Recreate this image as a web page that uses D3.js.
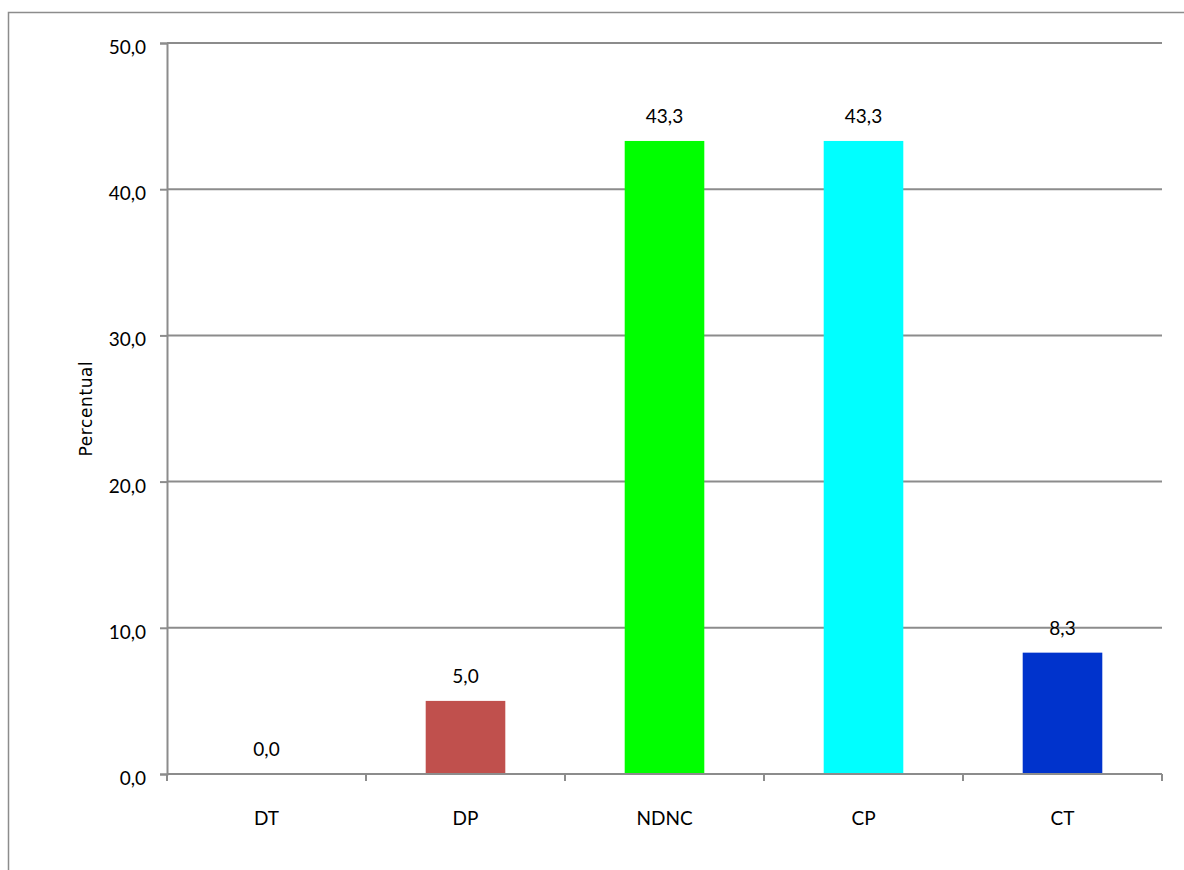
<!DOCTYPE html>
<html>
<head>
<meta charset="utf-8">
<script src="https://cdn.jsdelivr.net/npm/d3@7"></script>
<style>
  html, body { margin: 0; padding: 0; background: #fff; }
  svg { display: block; }
</style>
</head>
<body>
<svg id="chart" width="1184" height="870"></svg>
<script>
// Category labels, values (%) and bar colours
const categories = ["DT", "DP", "NDNC", "CP", "CT"];
const values = [0.0, 5.0, 43.3, 43.3, 8.3];
const colors = ["#4f81bd", "#c0504d", "#00ff00", "#00ffff", "#0033cc"];
const yTicks = [0, 10, 20, 30, 40, 50];

const fmt = v => v.toFixed(1).replace(".", ",");
const labelFont = "Lato, 'Open Sans', sans-serif";
const labelSize = 19;

const svg = d3.select("#chart");
const margin = { left: 167, top: 43, right: 1162, bottom: 774 };

// Outer chart frame
svg.append("rect")
  .attr("x", 8.5).attr("y", 12.5)
  .attr("width", 1200).attr("height", 900)
  .attr("fill", "none").attr("stroke", "#8c8c8c").attr("stroke-width", 1.5);

const x = d3.scaleBand().domain(categories).range([margin.left, margin.right]).paddingInner(0.6).paddingOuter(0.3);
const xOuter = d3.scaleBand().domain(categories).range([margin.left, margin.right]);
const y = d3.scaleLinear().domain([0, 50]).range([margin.bottom, margin.top]);

// Horizontal gridlines
svg.append("g")
  .selectAll("line")
  .data(yTicks.filter(t => t > 0))
  .join("line")
  .attr("x1", margin.left).attr("x2", margin.right)
  .attr("y1", d => y(d)).attr("y2", d => y(d))
  .attr("stroke", "#8c8c8c").attr("stroke-width", 2);

// Bars
svg.append("g")
  .selectAll("rect")
  .data(categories)
  .join("rect")
  .attr("x", d => x(d))
  .attr("width", x.bandwidth())
  .attr("y", (d, i) => y(values[i]))
  .attr("height", (d, i) => y(0) - y(values[i]))
  .attr("fill", (d, i) => colors[i]);

// Y axis
const yAxis = svg.append("g")
  .attr("transform", `translate(${margin.left},0)`)
  .call(d3.axisLeft(y).tickValues(yTicks).tickFormat(fmt).tickSize(7).tickPadding(14));
yAxis.attr("font-family", null).attr("font-size", null);
yAxis.selectAll("path, line").attr("stroke", "#8c8c8c").attr("stroke-width", 2);
yAxis.selectAll("text")
  .style("font-family", labelFont).style("font-size", labelSize + "px").style("font-weight", 400)
  .attr("fill", "#000")
  .attr("dy", "0.55em");

// X axis with category boundary ticks
const xAxisG = svg.append("g").attr("transform", `translate(0,${margin.bottom})`);
xAxisG.append("line")
  .attr("x1", margin.left).attr("x2", margin.right)
  .attr("stroke", "#8c8c8c").attr("stroke-width", 2);
xAxisG.selectAll("line.tick")
  .data(categories.map(c => xOuter(c)).concat([margin.right]))
  .join("line").attr("class", "tick")
  .attr("x1", d => d).attr("x2", d => d)
  .attr("y1", 0).attr("y2", 7)
  .attr("stroke", "#8c8c8c").attr("stroke-width", 2);
xAxisG.selectAll("text")
  .data(categories)
  .join("text")
  .attr("x", d => xOuter(d) + xOuter.bandwidth() / 2)
  .attr("y", 51)
  .attr("text-anchor", "middle")
  .style("font-family", labelFont).style("font-size", labelSize + "px")
  .attr("fill", "#000")
  .text(d => d);

// Value labels
svg.append("g")
  .selectAll("text")
  .data(categories)
  .join("text")
  .attr("x", d => x(d) + x.bandwidth() / 2)
  .attr("y", (d, i) => y(values[i]) - 18)
  .attr("text-anchor", "middle")
  .style("font-family", labelFont).style("font-size", labelSize + "px")
  .attr("fill", "#000")
  .text((d, i) => fmt(values[i]));

// Y axis title
svg.append("text")
  .attr("transform", `translate(92,${(margin.top + margin.bottom) / 2}) rotate(-90)`)
  .attr("text-anchor", "middle")
  .style("font-family", "'DejaVu Sans', Verdana, sans-serif")
  .style("font-size", "17px").attr("letter-spacing", 0.6).attr("fill", "#000")
  .text("Percentual");
</script>
</body>
</html>
